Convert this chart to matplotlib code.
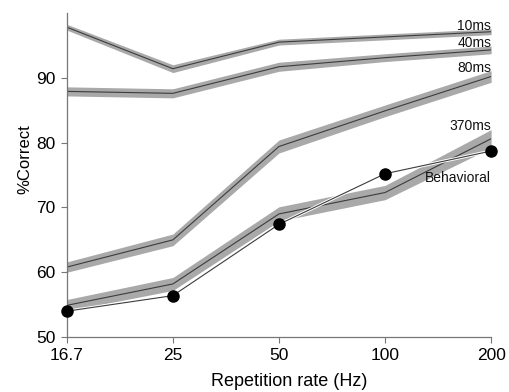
import matplotlib
matplotlib.use("Agg")
import matplotlib.pyplot as plt
import matplotlib.patheffects as pe
import numpy as np

plt.rcParams['font.family'] = ['Liberation Sans', 'DejaVu Sans']

rates = ["16.7", "25", "50", "100", "200"]

s10 = [97.8, 91.4, 95.5, 96.3, 97.1]
s10_err = [0.45, 0.6, 0.45, 0.45, 0.45]
s40 = [87.9, 87.6, 91.7, 93.1, 94.3]
s40_err = [0.7, 0.7, 0.7, 0.6, 0.6]
s80 = [60.8, 65.0, 79.4, 84.9, 90.2]
s80_err = [0.8, 0.9, 1.0, 0.9, 0.9]
s370 = [54.9, 58.2, 69.0, 72.3, 80.6]
s370_err = [0.9, 1.0, 1.1, 1.1, 1.4]
behavioral = [54.0, 56.4, 67.4, 75.2, 78.7]

series_names = ["10ms", "40ms", "80ms", "370ms"]
label_y = [98.0, 95.4, 91.5, 82.6]

fig = plt.figure(figsize=(5.10, 3.92), dpi=100)
ax = fig.add_axes([0.131, 0.140, 0.832, 0.827])

x = np.arange(len(rates))
band_color = "#a9a9a9"
line_color = "#3c3c3c"

for vals, errs in [(s10, s10_err), (s40, s40_err), (s80, s80_err), (s370, s370_err)]:
    v = np.array(vals)
    e = np.array(errs)
    ax.fill_between(x, v - e, v + e, color=band_color, lw=0, zorder=1)
    ax.plot(x, v, color=line_color, lw=0.8, zorder=2)

ax.plot(x, behavioral, color=line_color, lw=0.8, zorder=3,
        path_effects=[pe.Stroke(linewidth=2.2, foreground="white"), pe.Normal()])
ax.plot(x, behavioral, 'o', color="black", ms=8, zorder=4, clip_on=False)

for name, ly in zip(series_names, label_y):
    ax.text(x[-1], ly, name, ha="right", va="center", fontsize=10, color="#111111")
ax.text(x[-1], 74.5, "Behavioral", ha="right", va="center", fontsize=10, color="#111111")

ax.set_xlim(0, len(rates) - 1)
ax.set_ylim(50, 100)
ax.set_xticks(x)
ax.set_xticklabels(rates)
ax.set_yticks([50, 60, 70, 80, 90])
ax.tick_params(axis="both", direction="out", length=4, width=0.8, color="#777777",
               labelsize=12.5, pad=4)
for side in ["top", "right"]:
    ax.spines[side].set_visible(False)
for side in ["left", "bottom"]:
    ax.spines[side].set_color("#777777")
    ax.spines[side].set_linewidth(0.9)

ax.set_xlabel("Repetition rate (Hz)", fontsize=13)
ax.set_ylabel("%Correct", fontsize=12)
ax.xaxis.set_label_coords(0.524, -0.112)
ax.yaxis.set_label_coords(-0.080, 0.548)

fig.savefig("out.png", dpi=100)
